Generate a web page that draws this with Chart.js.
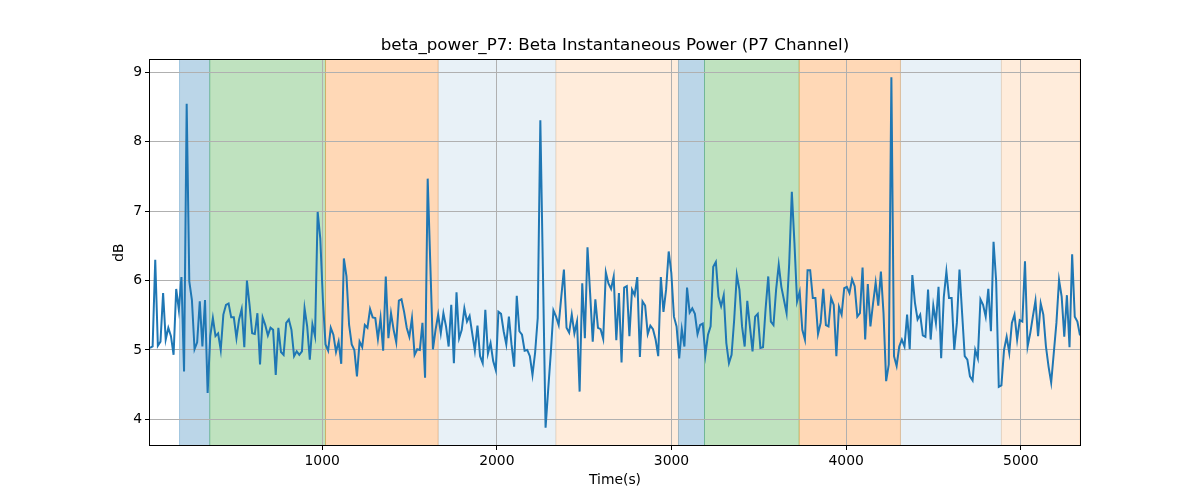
<!DOCTYPE html>
<html>
<head>
<meta charset="utf-8">
<script src="https://cdn.jsdelivr.net/npm/chart.js@4.4.0/dist/chart.umd.min.js"></script>
<style>
  html, body { margin: 0; padding: 0; background: #fff; }
  #wrap { width: 1200px; height: 500px; }
</style>
</head>
<body>
<div id="wrap"><canvas id="beta-chart" width="1200" height="500"></canvas></div>
<script>
// sampling of the power trace (seconds)
var T0 = 14;
var DT = 15;

// beta power, dB
var power = [
  5.03,5.05,6.30,5.06,5.12,5.82,5.15,5.32,5.20,4.93,5.88,5.58,6.05,4.69,8.55,5.99,5.72,5.01,5.11,5.70,
  5.05,5.72,4.38,5.20,5.46,5.20,5.24,5.00,5.51,5.65,5.67,5.47,5.47,5.17,5.44,5.59,5.04,6.00,
  5.65,5.24,5.23,5.53,4.79,5.47,5.36,5.21,5.32,5.29,4.64,5.32,4.97,4.93,5.39,5.44,5.29,4.91,4.98,4.93,
  4.98,5.60,5.34,4.86,5.37,5.20,6.99,6.61,5.72,5.08,4.99,5.32,5.22,4.97,5.12,
  4.80,6.32,6.06,5.36,5.08,5.00,4.62,5.12,5.04,5.36,5.32,5.59,5.47,5.46,5.16,5.46,4.99,6.06,5.17,5.53,
  5.29,5.11,5.71,5.73,5.55,5.32,5.19,5.46,4.93,5.01,5.00,5.39,4.60,7.47,
  6.24,5.01,5.29,5.51,5.24,5.53,5.34,5.05,5.65,4.81,5.83,5.17,5.29,5.60,5.41,5.49,5.24,4.99,5.35,4.91,
  4.81,5.58,4.95,5.10,4.84,4.71,5.55,5.52,5.27,5.08,5.48,5.08,4.76,5.78,5.27,
  5.22,4.99,5.00,4.91,4.64,4.96,5.46,8.31,6.11,3.88,4.43,4.96,5.57,5.48,5.36,5.77,6.16,5.32,5.25,5.51,
  5.24,5.41,4.40,5.96,5.17,6.48,5.82,5.12,5.73,5.32,5.30,5.16,6.12,5.96,5.88,
  6.06,5.14,5.82,4.82,5.90,5.92,5.20,5.87,5.79,6.05,4.90,5.70,5.64,5.23,5.35,5.30,5.15,4.91,6.05,5.55,
  5.87,6.42,6.11,5.48,5.34,4.88,5.30,5.05,5.90,5.54,5.60,5.52,5.23,5.36,5.38,
  4.93,5.22,5.34,6.20,6.27,5.77,5.63,5.79,5.10,4.81,4.93,5.44,6.08,5.87,5.34,5.05,5.71,5.34,4.98,5.48,
  5.52,5.03,5.04,5.60,6.06,5.41,5.36,5.87,6.23,5.91,5.72,5.53,6.25,7.28,
  6.54,5.70,5.84,5.29,5.15,6.15,6.15,5.75,5.75,5.23,5.39,5.88,5.36,5.34,5.75,5.65,4.91,5.62,5.51,5.89,
  5.91,5.82,6.02,5.92,5.48,5.53,6.19,5.15,5.95,5.34,5.67,5.97,5.64,6.13,5.53,4.55,
  4.79,8.93,4.91,4.77,5.05,5.15,5.05,5.51,5.01,6.08,5.68,5.44,5.51,5.21,5.19,5.87,5.15,5.64,5.39,5.91,
  4.88,5.76,6.13,5.75,5.75,5.00,5.39,6.16,5.53,4.91,4.86,4.62,4.56,5.00,4.88,
  5.73,5.65,5.48,5.88,5.27,6.56,5.99,4.47,4.49,5.00,5.19,4.96,5.39,5.51,5.15,5.43,5.41,6.28,5.05,5.24,
  5.48,5.71,5.20,5.67,5.51,5.05,4.76,4.53,4.96,5.39,6.01,5.77,5.19,5.79,5.04,6.38,5.48,5.41,5.21
];

// shaded phases (seconds)
var phaseStart = [183, 356, 1019, 1664, 2338, 3040, 3189, 3731, 4311, 4889];
var phaseEnd   = [356, 1019, 1664, 2338, 3040, 3189, 3731, 4311, 4889, 5339];
var phaseColor = [
  'rgba(31, 119, 180, 0.3)',
  'rgba(44, 160, 44, 0.3)',
  'rgba(255, 127, 14, 0.3)',
  'rgba(31, 119, 180, 0.1)',
  'rgba(255, 127, 14, 0.15)',
  'rgba(31, 119, 180, 0.3)',
  'rgba(44, 160, 44, 0.3)',
  'rgba(255, 127, 14, 0.3)',
  'rgba(31, 119, 180, 0.1)',
  'rgba(255, 127, 14, 0.15)'
];

var xTicks = [1000, 2000, 3000, 4000, 5000];
var yTicks = [4, 5, 6, 7, 8, 9];

var points = power.map(function (v, i) { return { x: T0 + i * DT, y: v }; });
var font = { family: 'DejaVu Sans', size: 13.9 };

var spans = {
  id: 'spans',
  beforeDraw: function (chart) {
    var ctx = chart.ctx, a = chart.chartArea, xs = chart.scales.x;
    ctx.save();
    ctx.beginPath();
    ctx.rect(a.left, a.top, a.right - a.left, a.bottom - a.top);
    ctx.clip();
    for (var i = 0; i < phaseStart.length; i++) {
      var x0 = xs.getPixelForValue(phaseStart[i]);
      var x1 = xs.getPixelForValue(phaseEnd[i]);
      ctx.fillStyle = phaseColor[i];
      ctx.fillRect(x0, a.top, x1 - x0, a.bottom - a.top);
      ctx.strokeStyle = phaseColor[i];
      ctx.lineWidth = 1;
      ctx.strokeRect(x0, a.top - 2, x1 - x0, a.bottom - a.top + 4);
    }
    ctx.restore();
  },
  afterDraw: function (chart) {
    var ctx = chart.ctx, a = chart.chartArea;
    ctx.save();
    ctx.strokeStyle = '#000';
    ctx.lineWidth = 1;
    ctx.strokeRect(Math.round(a.left) - 0.5, Math.round(a.top) - 0.5,
      Math.round(a.right - a.left) + 1, Math.round(a.bottom - a.top) + 1);
    ctx.restore();
  }
};

var ctx = document.getElementById('beta-chart').getContext('2d');
var myChart = new Chart(ctx, {
  type: 'line',
  data: {
    datasets: [{
      data: points,
      borderColor: '#1f77b4',
      borderWidth: 2,
      pointRadius: 0,
      tension: 0,
      fill: false
    }]
  },
  options: {
    responsive: false,
    animation: false,
    layout: { padding: { left: 107, right: 120, top: 0, bottom: 8 } },
    scales: {
      x: {
        type: 'linear',
        min: T0,
        max: T0 + (power.length - 1) * DT,
        afterBuildTicks: function (s) { s.ticks = xTicks.map(function (v) { return { value: v }; }); },
        afterFit: function (s) { s.height = 47; },
        grid: { color: '#b0b0b0', lineWidth: 1, tickColor: '#000', tickLength: 5 },
        border: { display: false },
        ticks: {
          color: '#000', font: font, padding: 3, maxRotation: 0, autoSkip: false,
          callback: function (v) { return String(v); }
        },
        title: { display: true, text: 'Time(s)', color: '#000', font: font, padding: { top: 0, bottom: 3 } }
      },
      y: {
        min: 3.63,
        max: 9.18,
        afterBuildTicks: function (s) { s.ticks = yTicks.map(function (v) { return { value: v }; }); },
        afterFit: function (s) { s.width = 43; },
        grid: { color: '#b0b0b0', lineWidth: 1, tickColor: '#000', tickLength: 5 },
        border: { display: false },
        ticks: { color: '#000', font: font, padding: 3, callback: function (v) { return String(v); } },
        title: { display: true, text: 'dB', color: '#000', font: font, padding: { top: 4, bottom: 0 } }
      }
    },
    plugins: {
      legend: { display: false },
      tooltip: { enabled: false },
      title: {
        display: true,
        fullSize: false,
        text: 'beta_power_P7: Beta Instantaneous Power (P7 Channel)',
        color: '#000',
        font: { family: 'DejaVu Sans', size: 16.7, weight: 'normal' },
        padding: { top: 36, bottom: 4 }
      }
    }
  },
  plugins: [spans]
});
</script>
</body>
</html>
